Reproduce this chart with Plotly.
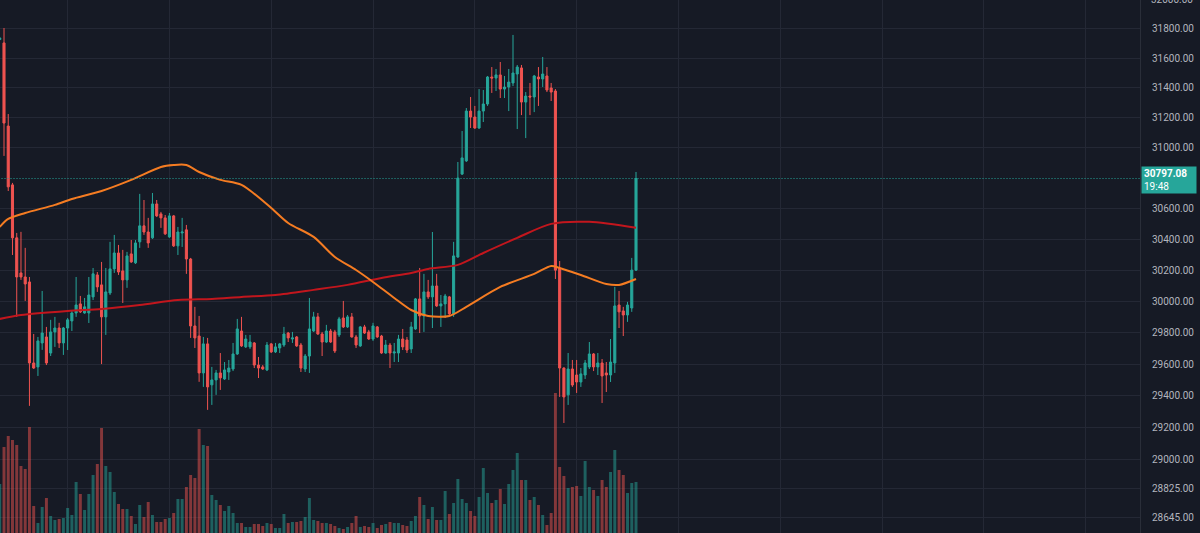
import math
import plotly.graph_objects as go

# ---------------- data ----------------
candle_index = list(range(-1, 150))

opens = [31725, 31702, 31144, 30755, 30409, 30182, 30156, 30124, 29607, 29582,
         29734, 29772, 29670, 29804, 29829, 29734, 29829, 29874, 29925, 29983,
         29925, 29925, 30028, 30169, 30105, 29900, 30053, 30208, 30311, 30195,
         30137, 30305, 30247, 30383, 30487, 30447, 30409, 30630, 30565, 30539,
         30415, 30552, 30357, 30441, 30461, 30272, 29842, 29778, 29544, 29728,
         29469, 29500, 29544, 29506, 29550, 29569, 29664, 29810, 29709, 29709,
         29734, 29594, 29582, 29563, 29728, 29677, 29702, 29721, 29797, 29759,
         29772, 29721, 29569, 29651, 29810, 29900, 29791, 29740, 29810, 29804,
         29785, 29893, 29836, 29900, 29772, 29715, 29836, 29804, 29759, 29836,
         29778, 29670, 29721, 29670, 29670, 29759, 29753, 29696, 29823, 30015,
         29906, 30060, 30028, 30098, 29970, 29983, 30028, 29919, 30285, 30826,
         30913, 31244, 31204, 31131, 31244, 31291, 31472, 31465, 31486, 31391,
         31405, 31432, 31492, 31533, 31304, 31344, 31338, 31472, 31459, 31479,
         31398, 31378, 30213, 29575, 29406, 29569, 29531, 29487, 29531, 29582,
         29664, 29582, 29607, 29544, 29531, 29607, 29976, 29938, 29912, 29957,
         30200]
highs = [31740, 31803, 31224, 30768, 30441, 30448, 30344, 30156, 29791, 29772,
         30066, 29836, 29881, 29900, 29862, 29835, 29893, 29944, 30156, 30034,
         30021, 30156, 30214, 30188, 30253, 30214, 30383, 30428, 30363, 30331,
         30318, 30395, 30395, 30696, 30656, 30539, 30702, 30656, 30578, 30558,
         30571, 30558, 30480, 30539, 30493, 30279, 29964, 29906, 29772, 29766,
         29582, 29563, 29670, 29613, 29626, 29734, 29887, 29900, 29785, 29785,
         29740, 29645, 29594, 29740, 29734, 29734, 29734, 29836, 29804, 29804,
         29778, 29734, 29664, 30021, 29932, 29925, 29804, 29849, 29823, 29817,
         29900, 30002, 29912, 29925, 29785, 29842, 29849, 29817, 29862, 29842,
         29785, 29753, 29734, 29734, 29785, 29823, 29772, 29868, 30021, 30214,
         30176, 30137, 30447, 30176, 30040, 30047, 30034, 30383, 30906, 31111,
         31264, 31338, 31278, 31391, 31385, 31479, 31539, 31526, 31573, 31479,
         31526, 31756, 31553, 31553, 31371, 31432, 31486, 31539, 31607, 31539,
         31432, 31391, 30259, 29580, 29670, 29626, 29626, 29575, 29626, 29740,
         29670, 29670, 29632, 29613, 29759, 30092, 30066, 29964, 29996, 30279,
         30840]
lows = [31720, 30946, 30715, 30298, 29900, 30137, 30002, 29337, 29569, 29525,
        29690, 29594, 29651, 29709, 29702, 29658, 29689, 29810, 29900, 29925,
        29920, 29861, 30008, 30060, 29600, 29785, 30040, 30182, 30169, 29989,
        30086, 30247, 30240, 30344, 30428, 30344, 30402, 30545, 30474, 30428,
        30409, 30350, 30298, 30350, 30176, 29766, 29702, 29488, 29456, 29312,
        29343, 29406, 29437, 29500, 29500, 29556, 29658, 29709, 29702, 29696,
        29575, 29512, 29563, 29556, 29670, 29670, 29670, 29709, 29740, 29734,
        29709, 29550, 29550, 29544, 29804, 29785, 29651, 29734, 29734, 29670,
        29772, 29829, 29829, 29768, 29702, 29709, 29791, 29753, 29747, 29766,
        29665, 29665, 29575, 29613, 29613, 29689, 29670, 29670, 29817, 29797,
        29804, 30015, 29829, 29964, 29836, 29893, 29912, 29900, 30279, 30820,
        30906, 31131, 31125, 31125, 31171, 31278, 31365, 31378, 31331, 31331,
        31244, 31411, 31124, 31217, 31064, 31217, 31237, 31278, 31405, 31371,
        31311, 30143, 29393, 29230, 29343, 29456, 29418, 29456, 29506, 29569,
        29556, 29531, 29355, 29424, 29487, 29544, 29829, 29778, 29868, 29932,
        30195]
closes = [31735, 31164, 30742, 30409, 30156, 30156, 30111, 29607, 29575, 29747,
          29797, 29607, 29804, 29829, 29734, 29829, 29881, 29925, 29976, 29932,
          29964, 30040, 30176, 30092, 29900, 30060, 30208, 30311, 30188, 30137,
          30292, 30253, 30376, 30487, 30447, 30376, 30630, 30552, 30539, 30435,
          30552, 30357, 30447, 30447, 30272, 29842, 29766, 29544, 29728, 29456,
          29500, 29544, 29513, 29563, 29575, 29664, 29823, 29715, 29759, 29740,
          29594, 29575, 29569, 29721, 29677, 29709, 29728, 29791, 29766, 29766,
          29715, 29575, 29651, 29823, 29900, 29791, 29740, 29810, 29740, 29683,
          29887, 29836, 29900, 29772, 29721, 29836, 29797, 29759, 29842, 29772,
          29670, 29721, 29670, 29677, 29759, 29709, 29689, 29836, 30015, 29906,
          30060, 30028, 30098, 29970, 29983, 30034, 29919, 30292, 30800, 30933,
          31244, 31204, 31131, 31244, 31291, 31472, 31465, 31486, 31391, 31405,
          31438, 31499, 31539, 31304, 31344, 31338, 31479, 31459, 31492, 31385,
          31371, 30200, 29575, 29393, 29569, 29468, 29487, 29538, 29607, 29664,
          29582, 29607, 29525, 29531, 29613, 29970, 29932, 29912, 29976, 30200,
          30797.08]
volumes = [980, 1720, 1940, 1860, 1760, 1340, 1280, 2120, 540, 200,
           520, 700, 340, 260, 280, 300, 500, 360, 1020, 780,
           460, 780, 1160, 1380, 2100, 1340, 1220, 820, 580, 480,
           480, 340, 180, 560, 320, 620, 360, 220, 220, 280,
           300, 400, 680, 680, 920, 1160, 1100, 2080, 1760, 1740,
           760, 660, 560, 440, 540, 400, 200, 200, 120, 120,
           180, 180, 140, 200, 180, 100, 100, 380, 200, 220,
           220, 240, 320, 700, 260, 240, 200, 200, 180, 140,
           100, 80, 120, 200, 340, 120, 140, 120, 200, 100,
           160, 180, 220, 200, 200, 160, 140, 240, 340, 720,
           560, 280, 520, 260, 260, 840, 380, 600, 1080, 680,
           600, 440, 340, 720, 1300, 800, 600, 660, 880, 580,
           980, 1260, 1600, 1060, 1060, 660, 720, 560, 360, 160,
           400, 2800, 1320, 1140, 900, 920, 940, 740, 1440, 920,
           860, 740, 1060, 920, 1220, 1660, 1260, 1160, 800, 1000,
           1020]

# moving averages (candle index, price)
ma_fast_index = [-1, 1, 5, 12, 16, 23, 30, 37, 40, 43, 46, 51, 56, 63, 67, 73,
                 78, 83, 87, 92, 96, 100, 105, 109, 117, 125, 129, 131, 136,
                 142, 145, 149]
ma_fast = [30480, 30532, 30571, 30624, 30663, 30715, 30788, 30873, 30886, 30886,
           30840, 30788, 30755, 30604, 30506, 30415, 30285, 30201, 30124, 30021,
           29944, 29906, 29906, 29964, 30092, 30176, 30227, 30214, 30169, 30111,
           30105, 30143]
ma_slow_index = [-1, 4, 15, 23, 32, 41, 49, 56, 64, 73, 81, 89, 96, 100, 107,
                 113, 121, 129, 138, 149]
ma_slow = [29887, 29912, 29938, 29951, 29976, 30008, 30015, 30028, 30040, 30073,
           30105, 30150, 30182, 30208, 30234, 30311, 30409, 30500, 30513, 30474]

last_price = 30797.08
countdown = "19:48"

price_ticks = [31800, 31600, 31400, 31200, 31000, 30600, 30400, 30200, 30000,
               29800, 29600, 29400, 29200, 29000, 28825, 28645]
price_tick_labels = ["31800.00", "31600.00", "31400.00", "31200.00", "31000.00",
                     "30600.00", "30400.00", "30200.00", "30000.00", "29800.00",
                     "29600.00", "29400.00", "29200.00", "29000.00", "28825.00",
                     "28645.00"]
top_label = "32000.00"
day_breaks = [15, 39, 63, 87, 111, 135, 159, 183, 207, 231, 255]

# ---------------- styling ----------------
BG = "#161a25"
GRID = "#242835"
UP = "#26a69a"
DOWN = "#ef5350"
UP_VOL = "rgba(38,166,154,0.5)"
DOWN_VOL = "rgba(239,83,80,0.5)"
TXT = "#b2b5be"
FONT = "Roboto"

vol_colors = [UP_VOL if c >= o else DOWN_VOL for o, c in zip(opens, closes)]

fig = go.Figure()

fig.add_trace(go.Bar(
    x=candle_index, y=volumes, marker=dict(color=vol_colors, line=dict(width=0)),
    width=0.7, yaxis="y2", hoverinfo="skip"))

fig.add_trace(go.Scatter(
    x=ma_slow_index, y=ma_slow, mode="lines",
    line=dict(color="#c2161d", width=2, shape="spline", smoothing=0.8),
    hoverinfo="skip"))
fig.add_trace(go.Scatter(
    x=ma_fast_index, y=ma_fast, mode="lines",
    line=dict(color="#f57c22", width=2, shape="spline", smoothing=0.8),
    hoverinfo="skip"))

fig.add_trace(go.Candlestick(
    x=candle_index, open=opens, high=highs, low=lows, close=closes,
    increasing=dict(line=dict(color=UP, width=1), fillcolor=UP),
    decreasing=dict(line=dict(color=DOWN, width=1), fillcolor=DOWN),
    whiskerwidth=0))

# last price dotted line
fig.add_trace(go.Scatter(
    x=[-2, 270], y=[last_price, last_price], mode="lines",
    line=dict(color=UP, width=1, dash="1px,2px"), hoverinfo="skip"))

y_lo = math.log10(28551)
y_hi = math.log10(31994)

fig.update_layout(
    width=1200, height=533,
    margin=dict(l=0, r=60, t=0, b=0),
    paper_bgcolor=BG, plot_bgcolor=BG,
    showlegend=False,
    xaxis=dict(range=[-0.943, 267.82], tickmode="array", tickvals=day_breaks,
               showticklabels=False, showgrid=True, gridcolor=GRID, gridwidth=1,
               zeroline=False, showline=False, rangeslider=dict(visible=False),
               fixedrange=True),
    yaxis=dict(type="log", range=[y_lo, y_hi], side="right",
               tickmode="array", tickvals=price_ticks, ticktext=price_tick_labels,
               showgrid=True, gridcolor=GRID, gridwidth=1, zeroline=False,
               showline=True, linecolor="#2a2e39", linewidth=1, ticks="",
               ticklabelstandoff=9,
               tickfont=dict(color=TXT, size=10, family=FONT), fixedrange=True),
    yaxis2=dict(overlaying="y", range=[0, 10660], visible=False, fixedrange=True),
    annotations=[
        dict(x=1, xref="paper", xanchor="left", xshift=1,
             y=math.log10(last_price), yref="y", yanchor="middle", yshift=-2,
             text="<b>" + f"{last_price:.2f}" + "</b><br>" + countdown,
             align="left", showarrow=False, bgcolor=UP, borderpad=2,
             width=50, height=22,
             font=dict(color="#ffffff", size=10, family=FONT)),
        dict(x=1, xref="paper", xanchor="left", xshift=9,
             y=1, yref="paper", yanchor="middle", yshift=1,
             text=top_label, showarrow=False,
             font=dict(color=TXT, size=10, family=FONT)),
    ],
)

fig.write_html("out.html", config=dict(displayModeBar=False))
